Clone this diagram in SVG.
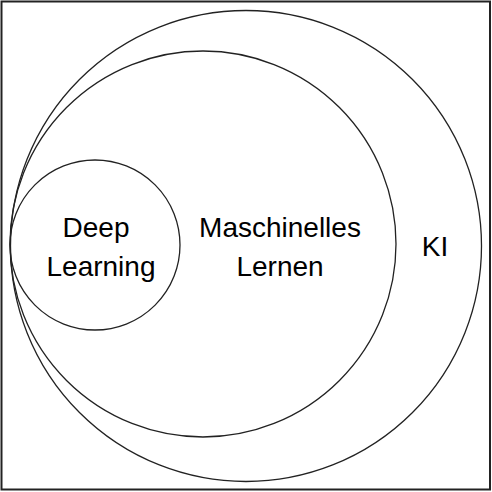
<svg xmlns="http://www.w3.org/2000/svg" width="492" height="492" viewBox="0 0 492 492">
<style>
.c{fill:none;stroke:#222;stroke-width:1.3}
.t{font-family:"Liberation Sans",Arial,sans-serif;font-size:28px;fill:#000;text-anchor:middle}
</style>
<rect x="0" y="0" width="492" height="492" fill="#fff"/>
<rect x="1.5" y="1.5" width="488.5" height="488" fill="none" stroke="#222" stroke-width="2"/>
<g id="ki">
<circle class="c" cx="246" cy="246" r="235.5"/>
<text class="t" x="435" y="256">KI</text>
</g>
<g id="ml">
<circle class="c" cx="203" cy="244" r="193"/>
<text class="t" x="280" y="237">Maschinelles</text>
<text class="t" x="280" y="276">Lernen</text>
</g>
<g id="dl">
<circle class="c" cx="95" cy="245" r="85"/>
<text class="t" x="96" y="237">Deep</text>
<text class="t" x="101" y="276">Learning</text>
</g>
<g id="connectors"/>
</svg>
